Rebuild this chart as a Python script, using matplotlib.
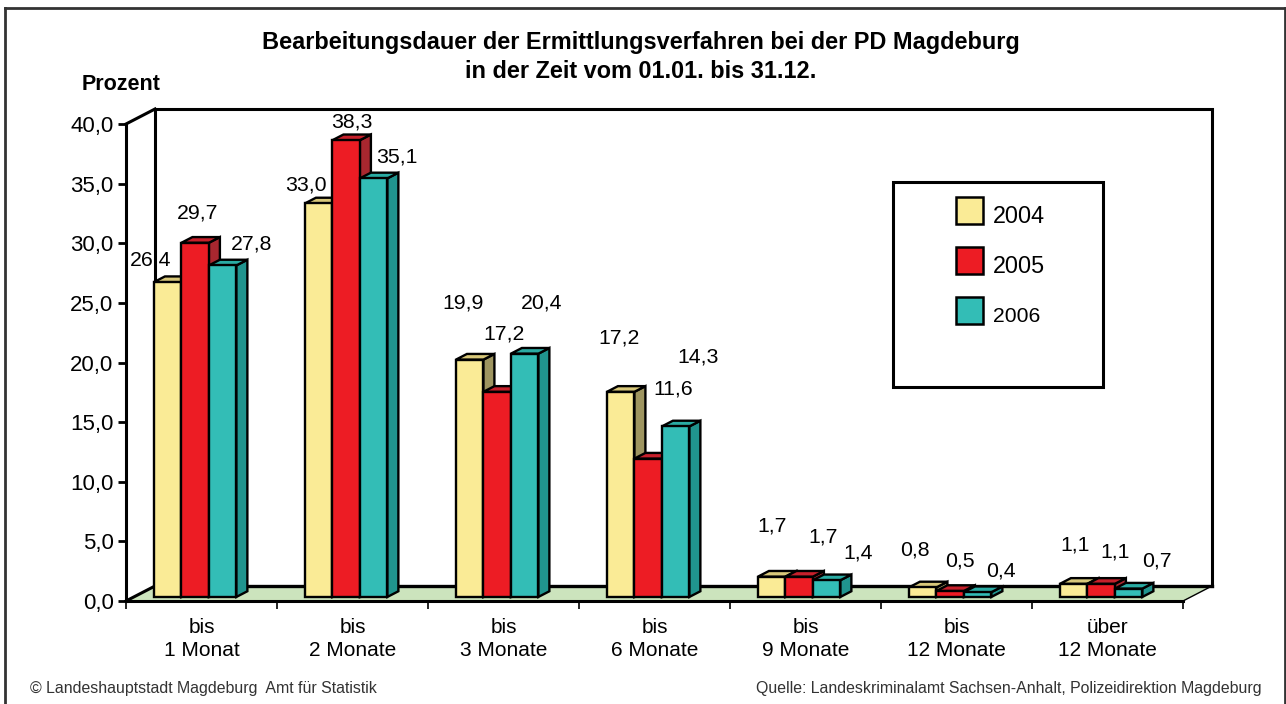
import numpy as np
import matplotlib.pyplot as plt
from matplotlib.patches import Polygon, Rectangle
from matplotlib.lines import Line2D

plt.rcParams['font.family'] = ['Liberation Sans', 'DejaVu Sans']

# data
categories = ['bis\n1 Monat', 'bis\n2 Monate', 'bis\n3 Monate', 'bis\n6 Monate',
              'bis\n9 Monate', 'bis\n12 Monate', 'über\n12 Monate']
years = ['2004', '2005', '2006']
v2004 = [26.4, 33.0, 19.9, 17.2, 1.7, 0.8, 1.1]
v2005 = [29.7, 38.3, 17.2, 11.6, 1.7, 0.5, 1.1]
v2006 = [27.8, 35.1, 20.4, 14.3, 1.4, 0.4, 0.7]
yticks = np.arange(0, 45, 5)

# colours: front, top, side
cols = [('#FAEB96', '#D8C87A', '#9E9560'),
        ('#ED1C24', '#C6202B', '#A8272F'),
        ('#33BDB6', '#2AABA3', '#20948E')]

# label offsets (pixels) from the top of each bar front, as in the original
lab_off = [
    [(-17, 22), (-13, 18), (-7, 57), (-2, 54), (0, 51), (-8, 37), (1, 39)],
    [(2, 30), (6, 18), (7, 58), (25, 70), (24, 40), (10, 30), (14, 32)],
    [(29, 21), (23, 21), (17, 51), (22, 69), (32, 27), (23, 21), (28, 28)],
]

W, H = 1286, 704
fig = plt.figure(figsize=(W / 100, H / 100), dpi=100)


def fx(x):
    return x / W


def fy(y):
    return 1 - y / H


ax = fig.add_axes([fx(126), fy(601), fx(1183) - fx(126), fy(124) - fy(601)])
ax.set_xlim(0, 7)
ax.set_ylim(0, 40)
ax.patch.set_visible(False)

# pseudo 3d depth (data units)
DX, DY = 29 / 151, 15 / (477 / 40)
z0, z1 = 0.27, 0.65
bw = 0.182

# floor
ax.add_patch(Polygon([(0, 0), (7, 0), (7 + DX, DY), (DX, DY)], closed=True,
                     facecolor='#CCE4BD', edgecolor='none', zorder=0, clip_on=False))
ax.plot([7, 7 + DX], [0, DY], color='black', lw=1, clip_on=False, zorder=1)
# back wall
ax.plot([DX, DX, 7 + DX, 7 + DX], [DY, 40 + DY, 40 + DY, DY], color='black',
        lw=2.2, clip_on=False, zorder=1, solid_joinstyle='miter')
ax.plot([DX, 7 + DX], [DY, DY], color='black', lw=2.4, clip_on=False, zorder=1)
ax.plot([0, DX], [40, 40 + DY], color='black', lw=2.2, clip_on=False, zorder=1)
ax.plot([0, DX], [0, DY], color='black', lw=2.2, clip_on=False, zorder=1)

series = [v2004, v2005, v2006]
for i in range(len(categories)):
    for j, vals in enumerate(series):
        v = vals[i]
        x = i + 0.5 - 1.5 * bw - 0.094 + j * bw
        front = [(x + z0 * DX, z0 * DY), (x + bw + z0 * DX, z0 * DY),
                 (x + bw + z0 * DX, v + z0 * DY), (x + z0 * DX, v + z0 * DY)]
        top = [(x + z0 * DX, v + z0 * DY), (x + bw + z0 * DX, v + z0 * DY),
               (x + bw + z1 * DX, v + z1 * DY), (x + z1 * DX, v + z1 * DY)]
        side = [(x + bw + z0 * DX, z0 * DY), (x + bw + z1 * DX, z1 * DY),
                (x + bw + z1 * DX, v + z1 * DY), (x + bw + z0 * DX, v + z0 * DY)]
        for poly, c in zip([side, top, front], [cols[j][2], cols[j][1], cols[j][0]]):
            ax.add_patch(Polygon(poly, closed=True, facecolor=c, edgecolor='black',
                                 lw=1.7, joinstyle='miter', zorder=3, clip_on=False))
        ox, oy = lab_off[j][i]
        ax.annotate(f'{v:.1f}'.replace('.', ','), (x + z0 * DX + bw / 2, v + z0 * DY),
                    xytext=(ox, oy), textcoords='offset pixels', ha='center', va='center',
                    fontsize=15.3, zorder=5)

# axes
for s in ['top', 'right']:
    ax.spines[s].set_visible(False)
ax.spines['left'].set_linewidth(2.2)
ax.spines['bottom'].set_linewidth(2.2)
ax.spines['left'].set_zorder(4)
ax.spines['bottom'].set_zorder(4)
ax.set_yticks(yticks)
ax.set_yticklabels([f'{t:.1f}'.replace('.', ',') for t in yticks], fontsize=16)
ax.tick_params(axis='y', length=6, width=2, pad=3)
ax.set_xticks(np.arange(0, 8))
ax.set_xticklabels([])
ax.tick_params(axis='x', which='major', length=6, width=1.2)
ax.set_xticks(np.arange(len(categories)) + 0.5, minor=True)
ax.set_xticklabels(categories, minor=True, fontsize=15, linespacing=1.3)
ax.tick_params(axis='x', which='minor', length=0, pad=12)

# titles
fig.text(fx(641), fy(42), 'Bearbeitungsdauer der Ermittlungsverfahren bei der PD Magdeburg',
         ha='center', va='center', fontsize=16.9, fontweight='bold')
fig.text(fx(641), fy(72), 'in der Zeit vom 01.01. bis 31.12.',
         ha='center', va='center', fontsize=16.9, fontweight='bold')
fig.text(fx(121), fy(85), 'Prozent', ha='center', va='center', fontsize=15.5, fontweight='bold')

# legend box
fig.patches.append(Rectangle((fx(893), fy(387)), fx(1103) - fx(893), fy(182) - fy(387),
                             transform=fig.transFigure, facecolor='white',
                             edgecolor='black', lw=2.2, zorder=6))
leg_sizes = [16.8, 16.8, 15.2]
for k, yr in enumerate(years):
    top_y = 197 + 50 * k
    fig.patches.append(Rectangle((fx(956), fy(top_y + 27)), fx(27), 27 / H,
                                 transform=fig.transFigure, facecolor=cols[k][0],
                                 edgecolor='black', lw=1.8, zorder=7))
    fig.text(fx(993), fy(top_y + 19), yr, ha='left', va='center',
             fontsize=leg_sizes[k], zorder=8)

# footer
fig.text(fx(30), fy(688), '© Landeshauptstadt Magdeburg  Amt für Statistik',
         ha='left', va='center', fontsize=11.4, color='#333333')
fig.text(fx(1262), fy(688), 'Quelle: Landeskriminalamt Sachsen-Anhalt, Polizeidirektion Magdeburg',
         ha='right', va='center', fontsize=11.4, color='#333333')

# outer frame
for xs, ys in [([5, 5], [704, 8]), ([5, 1285], [8, 8]), ([1285, 1285], [8, 704])]:
    fig.lines.append(Line2D([fx(x) for x in xs], [fy(y) for y in ys],
                            transform=fig.transFigure, color='#333333', lw=2))

fig.savefig('out.png', dpi=100)
